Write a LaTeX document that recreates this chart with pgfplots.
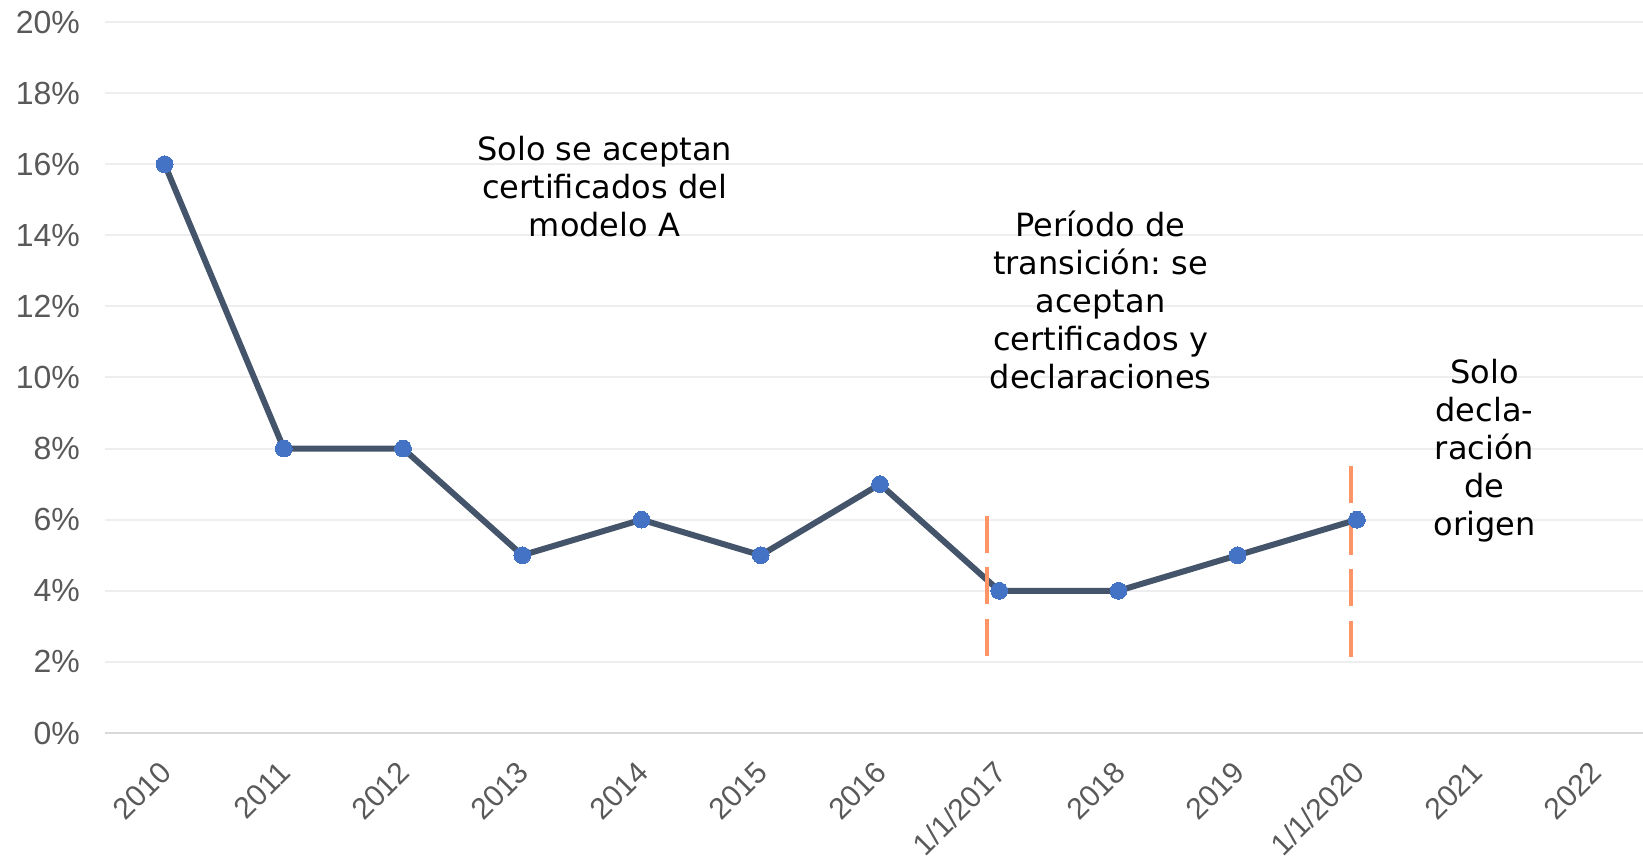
\documentclass[border=0pt]{standalone}
\usepackage{pgfplots}
\pgfplotsset{compat=1.18}
\usepackage{fontspec}
\setmainfont{Liberation Sans}
\newfontfamily\notefont{DejaVu Sans}
\frenchspacing
\definecolor{linecol}{HTML}{44546A}
\definecolor{markcol}{HTML}{4472C4}
\definecolor{dashcol}{HTML}{FF9466}
\definecolor{tickcol}{HTML}{595959}
\definecolor{gridcol}{HTML}{EEEEF0}
\definecolor{basecol}{HTML}{D9D9D9}
\begin{document}
\begin{tikzpicture}
\begin{axis}[
    name=ax,
    scale only axis,
    width=769pt, height=355.5pt,
    xmin=-0.5, xmax=12.4,
    ymin=0, ymax=20,
    clip=false,
    xtick={0,1,2,3,4,5,6,7,8,9,10,11,12},
    xticklabels={2010,2011,2012,2013,2014,2015,2016,1/1/2017,2018,2019,1/1/2020,2021,2022},
    ytick={0,2,4,6,8,10,12,14,16,18,20},
    yticklabel={\pgfmathprintnumber{\tick}\%},
    /pgf/number format/assume math mode=true,
    axis x line*=bottom,
    axis y line*=left,
    x axis line style={draw=basecol, line width=1pt},
    y axis line style={draw=none},
    major tick length=0pt,
    tick style={draw=none},
    ymajorgrids,
    grid style={draw=gridcol, line width=1pt},
    yticklabel style={font=\fontsize{16}{19}\selectfont, text=tickcol, xshift=-9pt},
    xticklabel style={xshift=-3.2pt, yshift=-8.3pt, rotate=45, anchor=north east,
                      font=\fontsize{15}{18}\selectfont, text=tickcol},
]
% share of certificates
\addplot[linecol, line width=3pt, mark=*, mark size=4.2pt,
         mark options={fill=markcol, draw=markcol, line width=0pt}]
    coordinates {
    (0,16)(1,8)(2,8)(3,5)(4,6)(5,5)(6,7)(7,4)(8,4)(9,5)(10,6)
    };
% period markers
\addplot[dashcol, line width=2pt, dash pattern=on 18.5pt off 7.2pt]
    coordinates {(6.9,6.11)(6.9,2.17)};
\addplot[dashcol, line width=2pt, dash pattern=on 18.5pt off 7.2pt]
    coordinates {(9.95,7.50)(9.95,2.14)};

\node[align=center, font=\notefont\fontsize{16}{19}\selectfont] at (axis cs:3.69,15.37)
    {Solo se aceptan\\certificados del\\modelo A};
\node[align=center, font=\notefont\fontsize{16}{19}\selectfont] at (axis cs:7.85,12.19)
    {Período de\\transición: se\\aceptan\\certificados y\\declaraciones};
\node[align=center, font=\notefont\fontsize{16}{19}\selectfont] at (axis cs:11.07,7.95)
    {Solo\\decla-\\ración\\de\\origen};
\end{axis}
\pgfresetboundingbox
\path[use as bounding box] ([xshift=-52.5pt,yshift=-61.5pt]ax.south west) rectangle ([yshift=11pt]ax.north east);
\end{tikzpicture}
\end{document}
